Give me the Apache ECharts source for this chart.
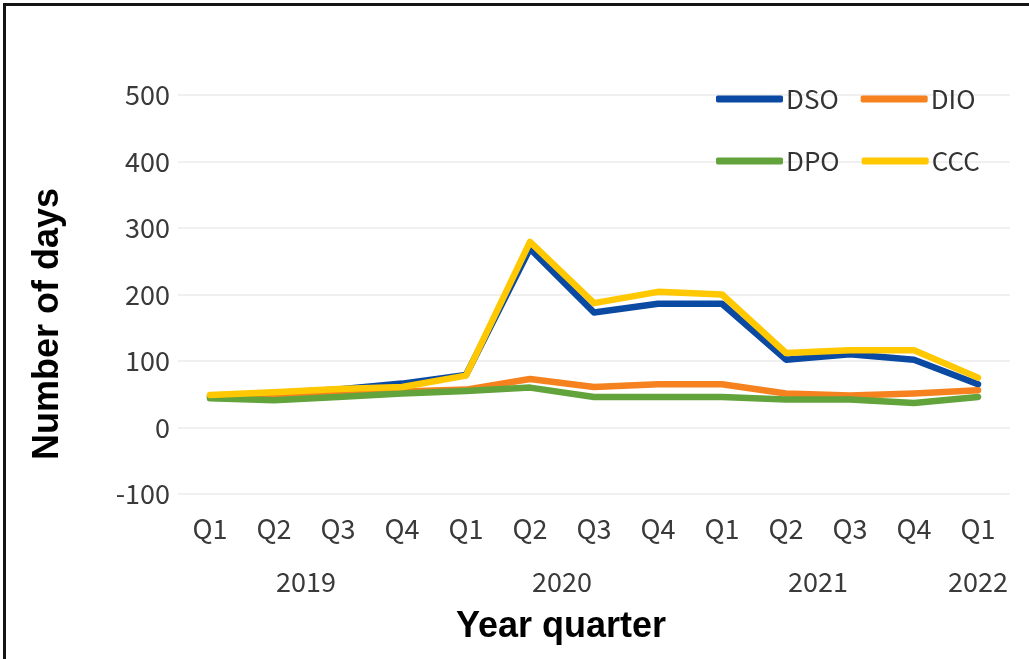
<!DOCTYPE html>
<html>
<head>
<meta charset="utf-8">
<title>Number of days by year quarter</title>
<script src="https://cdn.jsdelivr.net/npm/echarts@6/dist/echarts.min.js"></script>
<style>
  html, body { margin: 0; padding: 0; background: #ffffff; }
  #wrap { position: relative; width: 1029px; height: 659px; overflow: hidden; }
  #chart { position: absolute; left: 0; top: 0; width: 1029px; height: 659px; }
  #frame {
    position: absolute; left: 3px; top: 3px; right: -10px; bottom: -10px;
    border-top: 3px solid #141414; border-left: 3px solid #141414;
    pointer-events: none;
  }
</style>
</head>
<body>
<div id="wrap">
  <div id="chart"></div>
  <div id="frame"></div>
</div>
<script>
// Quarter labels along the x axis
const quarters = ['Q1', 'Q2', 'Q3', 'Q4', 'Q1', 'Q2', 'Q3', 'Q4', 'Q1', 'Q2', 'Q3', 'Q4', 'Q1'];
// Years and how many quarters each one spans
const years = ['2019', '2020', '2021', '2022'];
const quartersPerYear = [4, 4, 4, 1];

// Days sales outstanding, inventory outstanding, payables outstanding, cash conversion cycle
const dso = [47, 52, 57, 66, 79, 269, 173, 186, 186, 102, 110, 102, 65];
const dio = [45, 47, 50, 54, 57, 73, 61, 65, 65, 51, 48, 51, 56];
const dpo = [44, 41, 46, 51, 55, 60, 46, 46, 46, 42, 42, 37, 46];
const ccc = [49, 53, 58, 61, 78, 279, 187, 204, 200, 112, 116, 116, 75];

// Value-axis ticks
const yMin = -100, yMax = 500, yStep = 100;

const tickFont = '"Noto Sans CJK KR", "Noto Sans", sans-serif';
const titleFont = '"Liberation Sans", Arial, sans-serif';
const tickColor = '#3a3a3a';

// Centre of each year's group of quarters, in category-index units
const yearCenters = [];
let start = 0;
quartersPerYear.forEach(n => {
  yearCenters.push(start + (n - 1) / 2);
  start += n;
});

const seriesDefs = [
  { name: 'DSO', data: dso, color: '#0b4aa2' },
  { name: 'DIO', data: dio, color: '#f5821f' },
  { name: 'DPO', data: dpo, color: '#62a33c' },
  { name: 'CCC', data: ccc, color: '#ffc800' }
];

const legendText = { fontFamily: tickFont, fontSize: 26, color: '#333333', padding: [0, 0, 0, -2] };
const legendBase = {
  left: 711,
  orient: 'horizontal',
  icon: 'roundRect',
  itemWidth: 67,
  itemHeight: 7,
  itemGap: 22,
  textStyle: legendText,
  selectedMode: false
};

const chart = echarts.init(document.getElementById('chart'), null, { renderer: 'canvas' });

chart.setOption({
  animation: false,
  grid: { left: 178, right: 19, top: 95, bottom: 165, containLabel: false },
  legend: [
    Object.assign({}, legendBase, { top: 81, data: ['DSO', 'DIO'] }),
    Object.assign({}, legendBase, { top: 143, data: ['DPO', 'CCC'] })
  ],
  xAxis: [
    {
      type: 'category',
      data: quarters,
      boundaryGap: true,
      axisLine: { show: false },
      axisTick: { show: false },
      axisLabel: {
        interval: 0, margin: 21,
        fontFamily: tickFont, fontSize: 27, color: tickColor
      }
    },
    {
      type: 'value',
      position: 'bottom',
      min: -0.5,
      max: quarters.length - 0.5,
      axisLine: { show: false },
      axisTick: { show: false },
      splitLine: { show: false },
      axisLabel: {
        customValues: yearCenters,
        margin: 74,
        formatter: v => {
          const i = yearCenters.findIndex(c => Math.abs(c - v) < 1e-6);
          return i >= 0 ? years[i] : '';
        },
        fontFamily: tickFont, fontSize: 27, color: tickColor
      }
    }
  ],
  yAxis: {
    type: 'value',
    min: yMin,
    max: yMax,
    interval: yStep,
    axisLine: { show: false },
    axisTick: { show: false },
    splitLine: { lineStyle: { color: '#ebebeb', width: 1.5 } },
    axisLabel: { margin: 8, fontFamily: tickFont, fontSize: 27, color: tickColor }
  },
  graphic: [
    {
      type: 'text',
      x: 48, y: 324,
      rotation: Math.PI / 2,
      style: {
        text: 'Number of days',
        fontFamily: titleFont, fontWeight: 'bold', fontSize: 36,
        fill: '#000000', textAlign: 'center', textVerticalAlign: 'middle'
      }
    },
    {
      type: 'text',
      x: 561, y: 627,
      style: {
        text: 'Year quarter',
        fontFamily: titleFont, fontWeight: 'bold', fontSize: 36,
        fill: '#000000', textAlign: 'center', textVerticalAlign: 'middle'
      }
    }
  ],
  series: seriesDefs.map(s => ({
    name: s.name,
    type: 'line',
    xAxisIndex: 0,
    data: s.data,
    symbol: 'none',
    smooth: false,
    color: s.color,
    lineStyle: { color: s.color, width: 6.5, cap: 'round', join: 'round' }
  }))
});
</script>
</body>
</html>
